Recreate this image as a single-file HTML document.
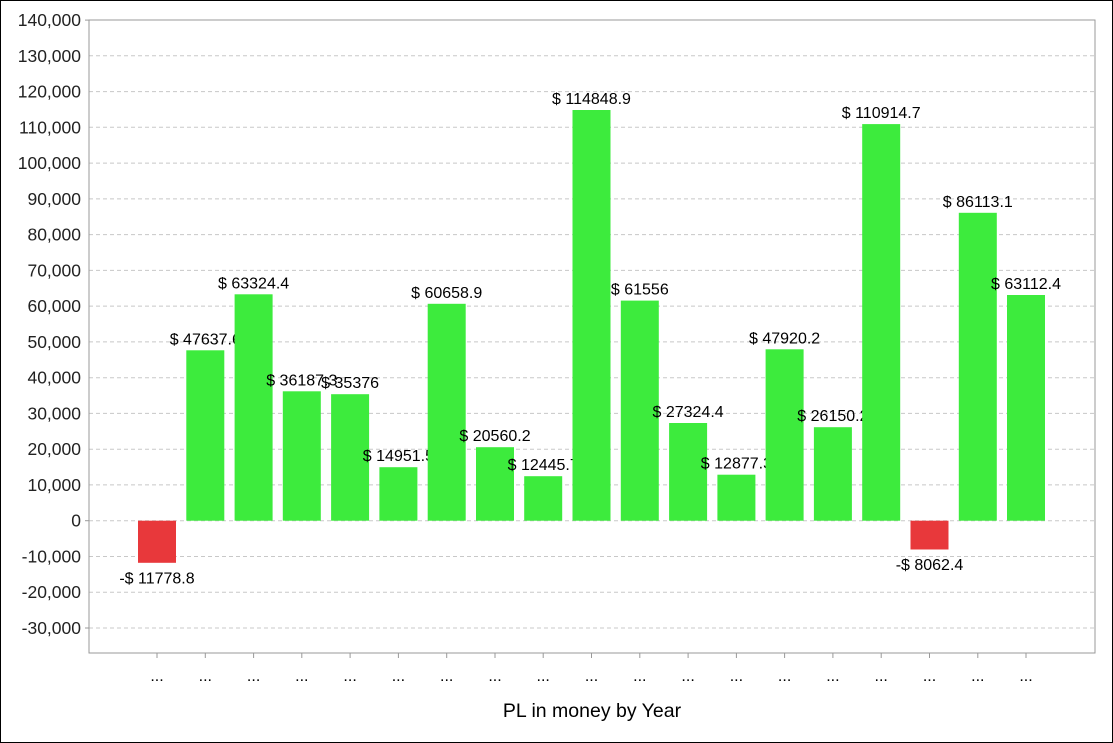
<!DOCTYPE html>
<html><head><meta charset="utf-8"><style>body{margin:0;background:#fff}svg{display:block}</style></head><body>
<svg width="1113" height="743" xmlns="http://www.w3.org/2000/svg" font-family="Liberation Sans, sans-serif">
<rect x="0.5" y="0.5" width="1112" height="742" fill="#fff" stroke="#000"/>
<g stroke="#c8c8c8" stroke-dasharray="4,3">
<line x1="89" x2="1095" y1="628" y2="628"/><line x1="89" x2="1095" y1="592.2" y2="592.2"/><line x1="89" x2="1095" y1="556.5" y2="556.5"/><line x1="89" x2="1095" y1="520.7" y2="520.7"/><line x1="89" x2="1095" y1="484.9" y2="484.9"/><line x1="89" x2="1095" y1="449.2" y2="449.2"/><line x1="89" x2="1095" y1="413.4" y2="413.4"/><line x1="89" x2="1095" y1="377.7" y2="377.7"/><line x1="89" x2="1095" y1="341.9" y2="341.9"/><line x1="89" x2="1095" y1="306.1" y2="306.1"/><line x1="89" x2="1095" y1="270.4" y2="270.4"/><line x1="89" x2="1095" y1="234.6" y2="234.6"/><line x1="89" x2="1095" y1="198.9" y2="198.9"/><line x1="89" x2="1095" y1="163.1" y2="163.1"/><line x1="89" x2="1095" y1="127.3" y2="127.3"/><line x1="89" x2="1095" y1="91.6" y2="91.6"/><line x1="89" x2="1095" y1="55.8" y2="55.8"/>
</g>
<g font-size="17.5" text-anchor="end" fill="#222">
<text x="81" y="634">-30,000</text><text x="81" y="598.2">-20,000</text><text x="81" y="562.5">-10,000</text><text x="81" y="526.7">0</text><text x="81" y="490.9">10,000</text><text x="81" y="455.2">20,000</text><text x="81" y="419.4">30,000</text><text x="81" y="383.7">40,000</text><text x="81" y="347.9">50,000</text><text x="81" y="312.1">60,000</text><text x="81" y="276.4">70,000</text><text x="81" y="240.6">80,000</text><text x="81" y="204.9">90,000</text><text x="81" y="169.1">100,000</text><text x="81" y="133.3">110,000</text><text x="81" y="97.6">120,000</text><text x="81" y="61.8">130,000</text><text x="81" y="26.1">140,000</text>
</g>
<g font-size="16" text-anchor="middle">
<rect x="138" y="520.7" width="38" height="42.1" fill="#e8383b"/><text x="157" y="583.5">-$ 11778.8</text>
<rect x="186.3" y="350.3" width="38" height="170.4" fill="#3deb3d"/><text x="205.3" y="344.3">$ 47637.6</text>
<rect x="234.6" y="294.3" width="38" height="226.4" fill="#3deb3d"/><text x="253.6" y="288.3">$ 63324.4</text>
<rect x="282.8" y="391.3" width="38" height="129.4" fill="#3deb3d"/><text x="301.8" y="385.3">$ 36187.3</text>
<rect x="331.1" y="394.2" width="38" height="126.5" fill="#3deb3d"/><text x="350.1" y="388.2">$ 35376</text>
<rect x="379.4" y="467.2" width="38" height="53.5" fill="#3deb3d"/><text x="398.4" y="461.2">$ 14951.5</text>
<rect x="427.7" y="303.8" width="38" height="216.9" fill="#3deb3d"/><text x="446.7" y="297.8">$ 60658.9</text>
<rect x="476" y="447.2" width="38" height="73.5" fill="#3deb3d"/><text x="495" y="441.2">$ 20560.2</text>
<rect x="524.2" y="476.2" width="38" height="44.5" fill="#3deb3d"/><text x="543.2" y="470.2">$ 12445.7</text>
<rect x="572.5" y="110" width="38" height="410.7" fill="#3deb3d"/><text x="591.5" y="104">$ 114848.9</text>
<rect x="620.8" y="300.6" width="38" height="220.1" fill="#3deb3d"/><text x="639.8" y="294.6">$ 61556</text>
<rect x="669.1" y="423" width="38" height="97.7" fill="#3deb3d"/><text x="688.1" y="417">$ 27324.4</text>
<rect x="717.4" y="474.7" width="38" height="46" fill="#3deb3d"/><text x="736.4" y="468.7">$ 12877.3</text>
<rect x="765.6" y="349.3" width="38" height="171.4" fill="#3deb3d"/><text x="784.6" y="343.3">$ 47920.2</text>
<rect x="813.9" y="427.2" width="38" height="93.5" fill="#3deb3d"/><text x="832.9" y="421.2">$ 26150.2</text>
<rect x="862.2" y="124.1" width="38" height="396.6" fill="#3deb3d"/><text x="881.2" y="118.1">$ 110914.7</text>
<rect x="910.5" y="520.7" width="38" height="28.8" fill="#e8383b"/><text x="929.5" y="570">-$ 8062.4</text>
<rect x="958.8" y="212.8" width="38" height="307.9" fill="#3deb3d"/><text x="977.8" y="206.8">$ 86113.1</text>
<rect x="1007" y="295" width="38" height="225.7" fill="#3deb3d"/><text x="1026" y="289">$ 63112.4</text>
</g>
<g font-size="16" text-anchor="middle">
<text x="157" y="681">...</text><text x="205.3" y="681">...</text><text x="253.6" y="681">...</text><text x="301.8" y="681">...</text><text x="350.1" y="681">...</text><text x="398.4" y="681">...</text><text x="446.7" y="681">...</text><text x="495" y="681">...</text><text x="543.2" y="681">...</text><text x="591.5" y="681">...</text><text x="639.8" y="681">...</text><text x="688.1" y="681">...</text><text x="736.4" y="681">...</text><text x="784.6" y="681">...</text><text x="832.9" y="681">...</text><text x="881.2" y="681">...</text><text x="929.5" y="681">...</text><text x="977.8" y="681">...</text><text x="1026" y="681">...</text>
</g>
<g stroke="#999">
<line x1="157" x2="157" y1="653" y2="658"/><line x1="205.3" x2="205.3" y1="653" y2="658"/><line x1="253.6" x2="253.6" y1="653" y2="658"/><line x1="301.8" x2="301.8" y1="653" y2="658"/><line x1="350.1" x2="350.1" y1="653" y2="658"/><line x1="398.4" x2="398.4" y1="653" y2="658"/><line x1="446.7" x2="446.7" y1="653" y2="658"/><line x1="495" x2="495" y1="653" y2="658"/><line x1="543.2" x2="543.2" y1="653" y2="658"/><line x1="591.5" x2="591.5" y1="653" y2="658"/><line x1="639.8" x2="639.8" y1="653" y2="658"/><line x1="688.1" x2="688.1" y1="653" y2="658"/><line x1="736.4" x2="736.4" y1="653" y2="658"/><line x1="784.6" x2="784.6" y1="653" y2="658"/><line x1="832.9" x2="832.9" y1="653" y2="658"/><line x1="881.2" x2="881.2" y1="653" y2="658"/><line x1="929.5" x2="929.5" y1="653" y2="658"/><line x1="977.8" x2="977.8" y1="653" y2="658"/><line x1="1026" x2="1026" y1="653" y2="658"/>
<line x1="85" x2="89" y1="20.1" y2="20.1"/><line x1="85" x2="89" y1="628" y2="628"/><line x1="85" x2="89" y1="520.7" y2="520.7"/>
</g>
<rect x="89" y="20" width="1006" height="633" fill="none" stroke="#999"/>
<text x="592" y="717" font-size="19.5" text-anchor="middle">PL in money by Year</text>
</svg>
</body></html>
